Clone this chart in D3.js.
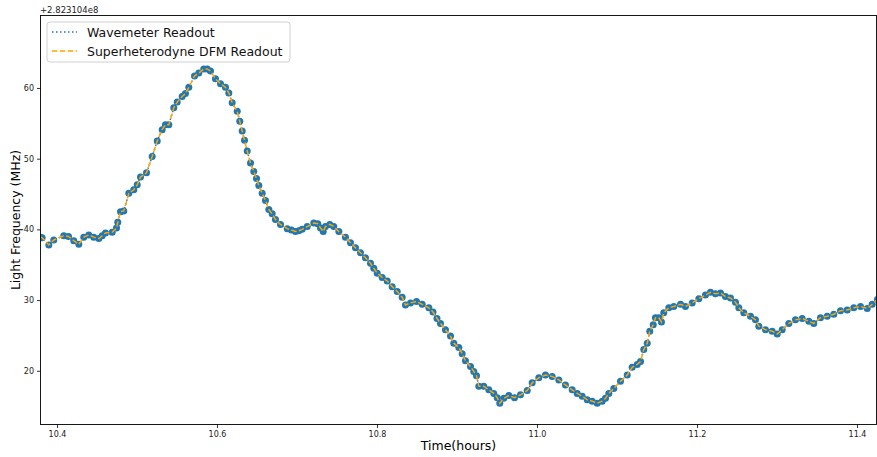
<!DOCTYPE html>
<html>
<head>
<meta charset="utf-8">
<script src="https://cdn.jsdelivr.net/npm/d3@7"></script>
<style>
  html, body { margin: 0; padding: 0; background: #fff; }
  svg text { font-family: "DejaVu Sans", sans-serif; }
</style>
</head>
<body>
<svg id="chart" width="877" height="457"></svg>
<script>
// ---- data (time in hours, frequency offset in MHz from 2.823104e8 MHz) ----
const times = [10.3794,10.3815,10.3898,10.3960,10.4085,10.4144,10.4210,10.4273,10.4335,10.4398,
  10.4460,10.4523,10.4565,10.4606,10.4690,10.4744,10.4760,10.4794,10.4835,10.4898,10.4960,
  10.5003,10.5044,10.5119,10.5190,10.5253,10.5315,10.5356,10.5398,10.5460,10.5503,
  10.5565,10.5606,10.5648,10.5719,10.5773,10.5835,10.5878,10.5919,10.5981,10.6044,
  10.6106,10.6148,10.6190,10.6253,10.6285,10.6315,10.6344,10.6378,10.6419,10.6460,
  10.6494,10.6523,10.6565,10.6606,10.6648,10.6690,10.6731,10.6794,10.6878,10.6930,10.6981,
  10.7023,10.7065,10.7128,10.7210,10.7260,10.7294,10.7328,10.7356,10.7410,10.7460,10.7523,
  10.7606,10.7669,10.7731,10.7794,10.7856,10.7919,10.7960,10.8003,10.8065,10.8128,
  10.8190,10.8253,10.8315,10.8356,10.8419,10.8494,10.8565,10.8648,10.8700,10.8750,10.8794,10.8856,
  10.8919,10.8960,10.9023,10.9065,10.9106,10.9169,10.9210,10.9244,10.9273,10.9335,
  10.9398,10.9460,10.9503,10.9535,10.9585,10.9648,10.9719,10.9794,10.9878,10.9940,
  11.0023,11.0106,11.0190,11.0273,11.0356,11.0440,11.0503,11.0565,11.0628,11.0690,
  11.0753,11.0815,11.0856,11.0898,11.0960,11.1044,11.1128,11.1190,11.1253,11.1294,
  11.1335,11.1378,11.1410,11.1453,11.1481,11.1523,11.1556,11.1585,11.1648,11.1710,
  11.1794,11.1856,11.1940,11.2023,11.2106,11.2169,11.2231,11.2294,11.2356,11.2419,
  11.2481,11.2523,11.2585,11.2669,11.2731,11.2773,11.2856,11.2940,11.3003,11.3065,
  11.3148,11.3231,11.3315,11.3398,11.3460,11.3544,11.3628,11.3710,11.3794,11.3878,
  11.3960,11.4044,11.4128,11.4190,11.4256];
const wavemeter = [38.9,38.8,37.8,38.5,39.1,39.0,38.4,37.9,38.9,39.2,
  38.9,38.7,39.1,39.5,39.6,40.2,41.0,42.5,42.6,45.1,45.6,
  46.3,47.4,48.0,50.3,52.5,54.1,54.8,54.8,57.2,58.0,
  58.8,59.2,60.1,61.7,62.1,62.7,62.7,62.4,61.3,60.6,
  60.1,59.3,57.9,56.7,55.3,53.9,52.6,51.1,49.4,48.2,
  47.2,46.2,45.1,44.1,42.8,42.2,41.4,40.7,40.1,39.9,39.7,
  39.8,40.0,40.4,40.9,40.8,40.2,39.7,40.4,40.7,40.4,39.7,
  38.9,38.1,37.4,36.7,36.0,35.2,34.5,33.8,33.2,32.7,
  31.9,31.2,30.4,29.3,29.6,29.8,29.4,28.9,28.3,27.4,26.7,25.8,
  24.9,23.9,23.3,22.4,21.4,20.6,19.9,19.3,17.8,17.8,
  17.3,16.8,16.2,15.4,16.1,16.5,16.2,16.6,17.2,18.3,
  19.0,19.4,19.2,18.7,18.0,17.3,16.8,16.4,15.9,15.7,
  15.4,15.7,16.1,16.8,17.5,18.5,19.4,20.5,20.9,21.3,
  23.0,23.9,25.6,26.5,27.5,27.5,26.9,28.2,28.9,29.1,
  29.4,29.1,29.6,30.2,30.7,31.1,30.9,31.0,30.5,30.3,
  29.7,28.9,28.2,27.7,27.2,26.3,25.8,25.6,25.2,25.8,
  26.7,27.2,27.4,27.0,26.7,27.5,27.7,28.0,28.5,28.6,
  28.9,29.1,28.8,29.4,30.1];
// The DFM readout overlaps the wavemeter readout everywhere in the picture.
const dfm = wavemeter;
const xTicks = [10.4, 10.6, 10.8, 11.0, 11.2, 11.4];
const yTicks = [20, 30, 40, 50, 60];
const seriesNames = ["Wavemeter Readout", "Superheterodyne DFM Readout"];
const offsetLabel = "+2.823104e8";

// ---- layout ----
const svg = d3.select("#chart");
const L = 40.5, R = 876.5, T = 15.5, B = 424.5;
const x = d3.scaleLinear().domain([10.3794, 11.4244]).range([L, R]);
const y = d3.scaleLinear().domain([12.4, 70.25]).range([B, T]);

const blue = "#1f77b4", orange = "#ffa500";

svg.append("defs").append("clipPath").attr("id", "clip")
  .append("rect").attr("x", L).attr("y", T).attr("width", R - L).attr("height", B - T);

const plot = svg.append("g").attr("clip-path", "url(#clip)");
const pts = times.map((t, i) => [t, wavemeter[i]]);
const ptsD = times.map((t, i) => [t, dfm[i]]);
const line = d3.line().x(d => x(d[0])).y(d => y(d[1]));

plot.append("path").datum(pts).attr("d", line)
  .attr("fill", "none").attr("stroke", blue).attr("stroke-width", 1.5)
  .attr("stroke-dasharray", "1.5,2.5");
plot.selectAll("circle").data(pts).enter().append("circle")
  .attr("cx", d => x(d[0])).attr("cy", d => y(d[1])).attr("r", 3.5)
  .attr("fill", blue);
plot.append("path").datum(ptsD).attr("d", line)
  .attr("fill", "none").attr("stroke", orange).attr("stroke-width", 1.5)
  .attr("stroke-dasharray", "5.5,2.4");

// ---- axes ----
const xAxis = svg.append("g").attr("transform", `translate(0,${B})`)
  .call(d3.axisBottom(x).tickValues(xTicks).tickFormat(d3.format(".1f")).tickSizeOuter(0).tickSize(3.5).tickPadding(3));
const yAxis = svg.append("g").attr("transform", `translate(${L},0)`)
  .call(d3.axisLeft(y).tickValues(yTicks).tickFormat(d3.format("d")).tickSizeOuter(0).tickSize(3.5).tickPadding(3));
[xAxis, yAxis].forEach(g => {
  g.select(".domain").remove();
  g.selectAll("line").attr("stroke", "#000").attr("stroke-width", 0.8);
  g.selectAll("text").attr("font-size", 8).attr("fill", "#222")
    .style("font-family", "'DejaVu Sans', sans-serif");
});

svg.append("rect").attr("x", L).attr("y", T).attr("width", R - L).attr("height", B - T)
  .attr("fill", "none").attr("stroke", "#000").attr("stroke-width", 0.9);

svg.append("text").attr("x", 40).attr("y", 13).attr("font-size", 8.5).attr("fill", "#222")
  .text(offsetLabel);

svg.append("text").attr("x", (L + R) / 2).attr("y", 450).attr("text-anchor", "middle")
  .attr("font-size", 12.5).text("Time(hours)");
svg.append("text").attr("transform", `translate(20,${(T + B) / 2}) rotate(-90)`)
  .attr("text-anchor", "middle").attr("font-size", 12.5).text("Light Frequency (MHz)");

// ---- legend ----
const lg = svg.append("g");
lg.append("rect").attr("x", 47).attr("y", 22).attr("width", 243).attr("height", 40).attr("rx", 3)
  .attr("fill", "#fff").attr("fill-opacity", 0.8).attr("stroke", "#d0d0d0").attr("stroke-width", 1);
const styles = [{ c: blue, dash: "1.5,2.5" }, { c: orange, dash: "5.5,2.4" }];
seriesNames.forEach((name, i) => {
  const yy = 32 + i * 19;
  lg.append("line").attr("x1", 52).attr("x2", 77).attr("y1", yy).attr("y2", yy)
    .attr("stroke", styles[i].c).attr("stroke-width", 1.5).attr("stroke-dasharray", styles[i].dash);
  lg.append("text").attr("x", 87).attr("y", yy + 4.5).attr("font-size", 12.5).attr("fill", "#111").text(name);
});
</script>
</body>
</html>
